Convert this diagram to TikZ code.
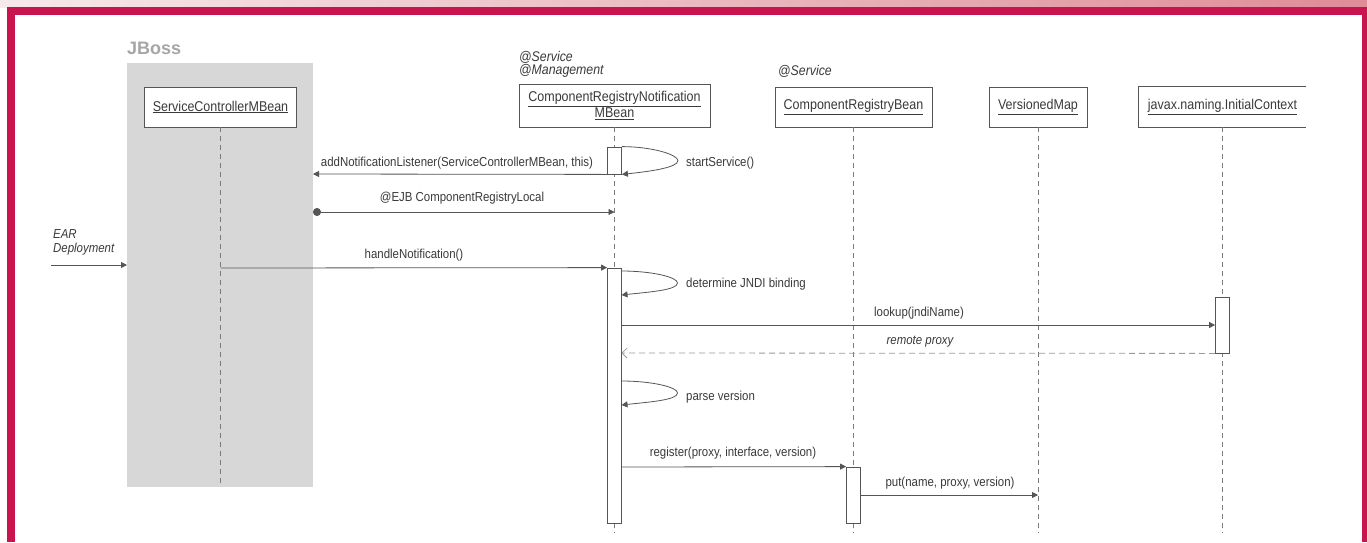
\documentclass[tikz,border=0pt]{standalone}
\usepackage{fontspec}
\setmainfont{Liberation Sans}[FakeStretch=0.88]
\newfontfamily\jbfont{Liberation Sans}
\usetikzlibrary{arrows.meta}
\definecolor{crimson}{HTML}{C8144F}
\definecolor{bandL}{HTML}{F6E9EB}
\definecolor{bandR}{HTML}{DF8C97}
\definecolor{panelgray}{HTML}{D6D7D6}
\definecolor{jbgray}{HTML}{A6A6A6}
\definecolor{txt}{HTML}{3A3A3A}
\definecolor{linec}{HTML}{555555}
\definecolor{lifec}{HTML}{7A7A7A}
\definecolor{retc}{HTML}{9A9A9A}
\begin{document}
\begin{tikzpicture}[x=1pt,y=-1pt,
  lbl/.style={font=\fontsize{13}{15}\selectfont, text=txt, inner sep=0pt, anchor=base},
  lblleft/.style={lbl, anchor=base west},
  ann/.style={font=\fontsize{14}{16}\selectfont\itshape, text=txt, inner sep=0pt, anchor=base west},
  obj/.style={draw=linec, line width=0.8pt, fill=white, font=\fontsize{14.2}{14}\selectfont, text=txt, inner sep=0pt, align=center},
  objtext/.style={fill=white, font=\fontsize{14.2}{14}\selectfont, text=txt, inner sep=0pt, align=center},
  objline/.style={draw=linec, line width=0.8pt},
  lifeline/.style={draw=lifec, line width=0.8pt, dash pattern=on 5pt off 4pt},
  actbox/.style={draw=linec, line width=0.8pt, fill=white, minimum width=14pt, inner sep=0pt},
  msg/.style={draw=linec, line width=0.8pt, -{Triangle[length=6pt,width=6pt]}},
  ejb/.style={draw=linec, line width=0.8pt, {Circle[length=8pt]}-{Triangle[length=6pt,width=6pt]}},
  ret/.style={draw=retc, line width=0.8pt, dash pattern=on 6pt off 4pt, -{Straight Barb[length=5pt,width=10pt]}},
  panel/.style={fill=panelgray, inner sep=0pt}
]
\useasboundingbox (0,0) rectangle (1367,542);
\fill[white] (0,0) rectangle (1367,542);
% top band and frame
\shade[left color=bandL, right color=bandR] (0,0) rectangle (1367,7);
\fill[crimson] (7,7) rectangle (1367,15);
\fill[crimson] (7,7) rectangle (15,542);
\fill[crimson] (1362,7) rectangle (1367,542);

% JBoss panel
\node[panel, minimum width=186pt, minimum height=424pt] (jb) at (220,275) {};
\node[font=\fontsize{18}{20}\jbfont\bfseries, text=jbgray, inner sep=0pt, anchor=base west] (jbt) at (127,54) {JBoss};

% annotations
\node[ann] (ann1) at (519,61) {@Service};
\node[ann] (ann2) at (519,74.5) {@Management};
\node[ann] (ann3) at (778,75) {@Service};

% objects
\node[obj, minimum width=152pt, minimum height=40pt] (scm) at (220.5,107) {\underline{ServiceControllerMBean}};
\node[obj, minimum width=191pt, minimum height=43pt] (crn) at (614.5,105.5) {\underline{ComponentRegistryNotification}\\\underline{MBean}};
\node[obj, minimum width=157pt, minimum height=40pt] (crb) at (853.5,107) {\underline{ComponentRegistryBean}};
\node[obj, minimum width=98pt, minimum height=40pt] (vm) at (1038,107) {\underline{VersionedMap}};
\node[objtext, minimum width=167pt, minimum height=40pt] (ic) at (1222.5,107) {\underline{javax.naming.InitialContext}};
\draw[objline] (ic.north east) -- (ic.north west) -- (ic.south west) -- (ic.south east);

% lifeline ends
\coordinate (scmEnd) at (220.5,484);
\coordinate (crnEnd) at (614.5,533);
\coordinate (crbEnd) at (853.5,533);
\coordinate (vmEnd) at (1038,533);
\coordinate (icEnd) at (1222.5,533);
\draw[lifeline] (scm.south) -- (scmEnd);
\draw[lifeline] (crn.south) -- (crnEnd);
\draw[lifeline] (crb.south) -- (crbEnd);
\draw[lifeline] (vm.south) -- (vmEnd);
\draw[lifeline] (ic.south) -- (icEnd);

% activations
\node[actbox, minimum height=27pt] (a1) at (614.5,160.5) {};
\node[actbox, minimum height=255pt] (a2) at (614.5,395.5) {};
\node[actbox, minimum height=56pt] (a3) at (1222.5,325) {};
\node[actbox, minimum height=56pt] (a4) at (853.5,495) {};

% message end points
\coordinate (pnlA) at (313,174);
\coordinate (pnlB) at (313,212);
\coordinate (crnB) at (614.5,212);
\coordinate (earS) at (51,265);
\coordinate (earE) at (127,265);
\coordinate (scmH) at (220.5,268);
\coordinate (s2a) at (621.5,271);
\coordinate (s2b) at (621.5,295);
\coordinate (lkS) at (621.5,325);
\coordinate (rpE) at (621.5,353);
\coordinate (s3a) at (621.5,381);
\coordinate (s3b) at (621.5,405);
\coordinate (rgS) at (621.5,467);
\coordinate (vmP) at (1038,495);

% messages
\draw[msg] (a1.north east) .. controls +(30,0) and +(0,-6) .. +(56,14) .. controls +(0,7) and +(28,-3) .. (a1.south east);
\draw[msg] (a1.south west) -- (pnlA);
\draw[ejb] (pnlB) -- (crnB);
\draw[msg] (earS) -- (earE);
\draw[msg] (scmH) -- (a2.north west);
\draw[msg] (s2a) .. controls +(30,0) and +(0,-6) .. +(56,12) .. controls +(0,7) and +(28,-3) .. (s2b);
\draw[msg] (lkS) -- (a3.west);
\draw[ret] (a3.south west) -- (rpE);
\draw[msg] (s3a) .. controls +(30,0) and +(0,-6) .. +(56,12) .. controls +(0,7) and +(28,-3) .. (s3b);
\draw[msg] (rgS) -- (a4.north west);
\draw[msg] (a4.east) -- (vmP);

% labels
\node[lblleft] (l1) at (686,166) {startService()};
\node[lbl] (l2) at (457,166) {addNotificationListener(ServiceControllerMBean, this)};
\node[lbl] (l3) at (462,201) {@EJB ComponentRegistryLocal};
\node[lblleft, font=\fontsize{13}{15}\selectfont\itshape] (l4) at (53,238) {EAR};
\node[lblleft, font=\fontsize{13}{15}\selectfont\itshape] (l5) at (53,252.5) {Deployment};
\node[lbl] (l6) at (414,258) {handleNotification()};
\node[lblleft] (l7) at (686,287) {determine JNDI binding};
\node[lbl] (l8) at (919,316) {lookup(jndiName)};
\node[lbl, font=\fontsize{13}{15}\selectfont\itshape] (l9) at (920,344) {remote proxy};
\node[lblleft] (l10) at (686,400) {parse version};
\node[lbl] (l11) at (733,456) {register(proxy, interface, version)};
\node[lbl] (l12) at (950,486) {put(name, proxy, version)};
\end{tikzpicture}
\end{document}
